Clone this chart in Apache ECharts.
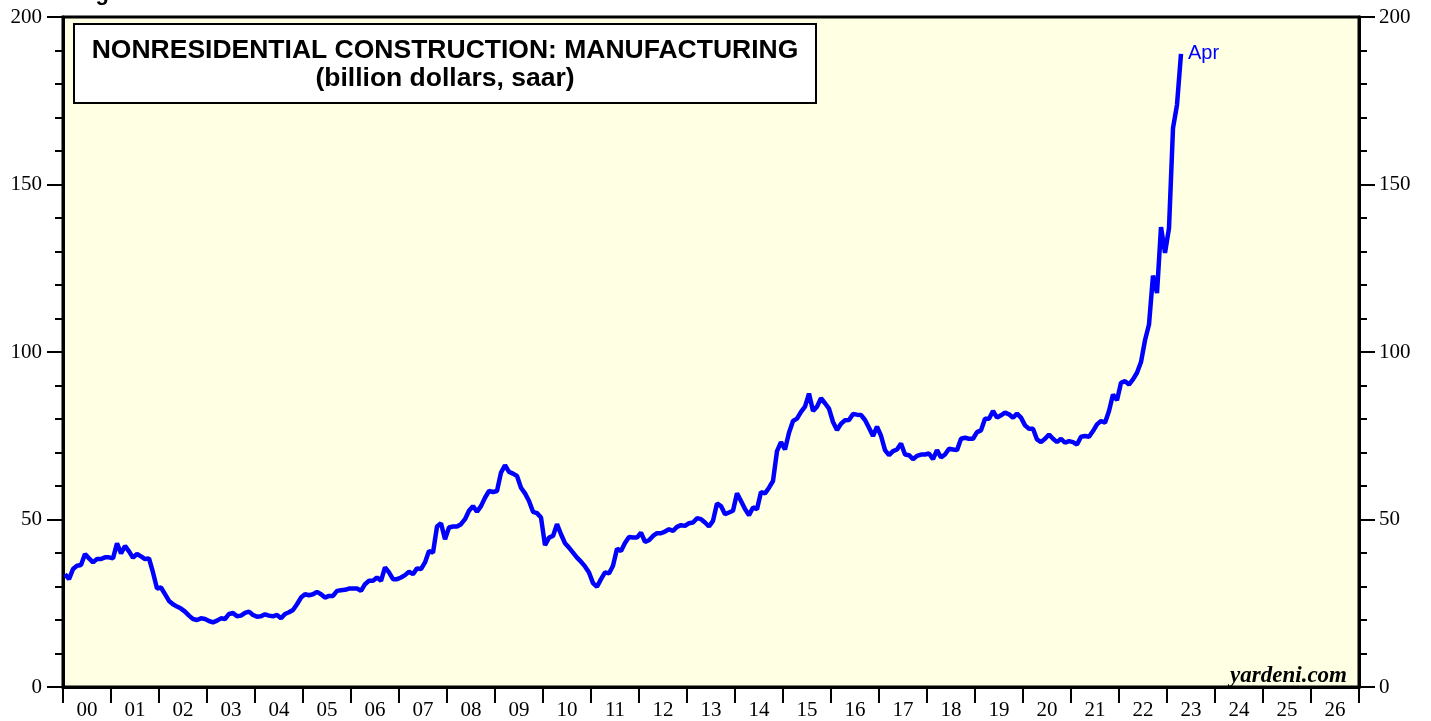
<!DOCTYPE html>
<html>
<head>
	<meta charset="utf-8" />
	<title>Nonresidential Construction: Manufacturing</title>
	<script type="text/javascript" src="https://cdn.jsdelivr.net/npm/echarts@6/dist/echarts.min.js"></script>
	<style>
		html, body {margin:0;padding:0;background:#fff;}
		#chart {width:1431px;height:721px;}
	</style>
</head>
<body>
	<div id="chart"></div>
	<script>
		// tick labels under the x axis (one per year, label sits between ticks)
		var yearLabels = ['00','01','02','03','04','05','06','07','08','09','10','11','12','13',
			'14','15','16','17','18','19','20','21','22','23','24','25','26'];

		// monthly values, billion dollars saar, Jan 2000 .. Apr 2023
		var v2000_04 = [
			33.7, 32.2, 35.2, 36.2, 36.4, 39.7, 38.4, 37.2, 38.2, 38.2, 38.7, 38.7,
			38.4, 42.9, 39.9, 42.1, 40.5, 38.6, 39.7, 39.0, 38.2, 38.4, 34.2, 29.4,
			29.7, 27.7, 25.7, 24.7, 24.0, 23.4, 22.5, 21.3, 20.3, 20.0, 20.5, 20.3,
			19.7, 19.3, 19.8, 20.5, 20.3, 21.8, 22.1, 21.1, 21.3, 22.1, 22.5, 21.5,
			21.0, 21.1, 21.7, 21.3, 21.1, 21.5, 20.5, 21.8, 22.3, 23.0, 24.7, 26.7
		];
		var v2005_09 = [
			27.7, 27.4, 27.7, 28.4, 27.7, 26.7, 27.2, 27.2, 28.7, 28.9, 29.0, 29.4,
			29.4, 29.4, 28.7, 30.7, 31.7, 31.7, 32.7, 31.7, 35.7, 34.2, 32.2, 32.2,
			32.7, 33.4, 34.4, 33.7, 35.4, 35.2, 37.2, 40.6, 40.1, 47.9, 48.9, 44.1,
			47.6, 47.9, 47.9, 48.6, 50.1, 52.6, 54.0, 52.3, 54.0, 56.5, 58.5, 58.2,
			58.5, 64.0, 66.2, 64.2, 63.7, 63.0, 59.5, 57.8, 55.5, 52.3, 51.9, 50.6
		];
		var v2010_14 = [
			42.3, 44.6, 45.1, 48.6, 45.6, 42.9, 41.6, 40.1, 38.6, 37.4, 36.0, 34.2,
			31.0, 29.9, 32.2, 34.2, 33.9, 36.2, 41.3, 40.6, 43.0, 44.8, 44.6, 44.6,
			46.1, 43.3, 43.8, 45.1, 45.9, 45.9, 46.4, 47.1, 46.6, 47.8, 48.3, 48.1,
			48.9, 49.1, 50.4, 50.1, 49.1, 47.9, 49.6, 54.8, 54.0, 51.6, 52.1, 52.6,
			57.8, 55.5, 53.1, 51.3, 53.6, 53.1, 58.2, 57.8, 59.5, 61.5, 70.4, 73.1
		];
		var v2015_19 = [
			70.9, 75.9, 79.4, 80.1, 82.1, 83.7, 87.6, 82.4, 83.7, 86.2, 84.7, 83.1,
			79.1, 76.7, 78.6, 79.6, 79.7, 81.5, 81.3, 81.2, 79.7, 77.4, 74.9, 77.7,
			75.0, 70.7, 69.2, 70.4, 70.9, 72.7, 69.4, 69.2, 68.0, 69.0, 69.4, 69.4,
			69.7, 68.0, 70.7, 68.5, 69.4, 71.1, 70.9, 70.7, 74.1, 74.4, 74.1, 74.1,
			76.1, 76.6, 80.1, 80.1, 82.4, 80.4, 81.1, 81.9, 81.4, 80.4, 81.6, 80.4
		];
		var v2020_23 = [
			78.1, 77.1, 77.1, 73.9, 73.1, 74.1, 75.4, 74.1, 73.1, 74.1, 72.9, 73.4,
			73.1, 72.4, 74.7, 74.9, 74.7, 76.4, 78.4, 79.4, 78.9, 82.4, 87.3, 85.6,
			90.8, 91.3, 90.3, 91.8, 93.8, 97.0, 103.5, 108.2, 122.8, 117.6, 137.3, 129.6,
			137.0, 166.8, 173.8, 189.0
		];
		var lastLabel = 'Apr';

		var values = [].concat(v2000_04, v2005_09, v2010_14, v2015_19, v2020_23);
		// each observation placed at the middle of its month
		var series = values.map(function (v, i) {
			return [2000 + (i + 0.5) / 12, v];
		});

		var chart = echarts.init(document.getElementById('chart'));

		var serif = 'Liberation Serif';
		var yAxisBase = {
			type: 'value',
			min: 0,
			max: 200,
			interval: 50,
			axisLine: {show: true, lineStyle: {color: '#000', width: 3}},
			axisTick: {show: true, inside: false, length: 16, lineStyle: {color: '#000', width: 2}},
			minorTick: {show: true, splitNumber: 5, length: 8, lineStyle: {color: '#000', width: 2}},
			splitLine: {show: false},
			axisLabel: {color: '#000', fontFamily: serif, fontSize: 21, margin: 21}
		};

		var option = {
			animation: false,
			backgroundColor: '#fff',
			grid: {
				left: 63, right: 72, top: 17, bottom: 33,
				show: true,
				backgroundColor: '#ffffe4',
				borderColor: '#000',
				borderWidth: 3
			},
			xAxis: [
				{
					type: 'value',
					min: 2000,
					max: 2027,
					show: false
				},
				{
					type: 'category',
					position: 'bottom',
					data: yearLabels,
					boundaryGap: true,
					axisLine: {show: true, lineStyle: {color: '#000', width: 3}},
					axisTick: {show: true, interval: 0, length: 16, lineStyle: {color: '#000', width: 2}},
					axisLabel: {interval: 0, color: '#000', fontFamily: serif, fontSize: 21, margin: 13},
					splitLine: {show: false}
				}
			],
			yAxis: [
				Object.assign({}, yAxisBase, {position: 'left'}),
				Object.assign({}, yAxisBase, {position: 'right', axisLabel: Object.assign({}, yAxisBase.axisLabel, {margin: 20})})
			],
			series: [
				{
					type: 'line',
					xAxisIndex: 0,
					yAxisIndex: 0,
					data: series,
					showSymbol: false,
					smooth: false,
					lineStyle: {color: '#0000ff', width: 4.5},
					itemStyle: {color: '#0000ff'},
					endLabel: {
						show: true,
						formatter: lastLabel,
						color: '#0000ff',
						fontFamily: 'Liberation Sans',
						fontSize: 20,
						distance: 7
					}
				}
			],
			graphic: [
				{
					type: 'text',
					left: 76,
					top: -17,
					style: {text: 'Figure 7.', fontFamily: 'Liberation Sans', fontWeight: 'bold', fontSize: 22, fill: '#000'}
				},
				{
					type: 'rect',
					shape: {x: 74, y: 24, width: 742, height: 79},
					style: {fill: '#fff', stroke: '#000', lineWidth: 2},
					z: 10
				},
				{
					type: 'text',
					x: 445,
					y: 51,
					z: 11,
					style: {
						text: 'NONRESIDENTIAL CONSTRUCTION: MANUFACTURING',
						fontFamily: 'Liberation Sans', fontWeight: 'bold', fontSize: 26.5,
						fill: '#000', align: 'center', verticalAlign: 'middle'
					}
				},
				{
					type: 'text',
					x: 445,
					y: 79,
					z: 11,
					style: {
						text: '(billion dollars, saar)',
						fontFamily: 'Liberation Sans', fontWeight: 'bold', fontSize: 26.5,
						fill: '#000', align: 'center', verticalAlign: 'middle'
					}
				},
				{
					type: 'text',
					x: 1347,
					y: 676,
					z: 11,
					style: {
						text: 'yardeni.com',
						fontFamily: serif, fontWeight: 'bold', fontStyle: 'italic', fontSize: 23,
						fill: '#000', align: 'right', verticalAlign: 'middle'
					}
				}
			]
		};

		chart.setOption(option);
	</script>
</body>
</html>
